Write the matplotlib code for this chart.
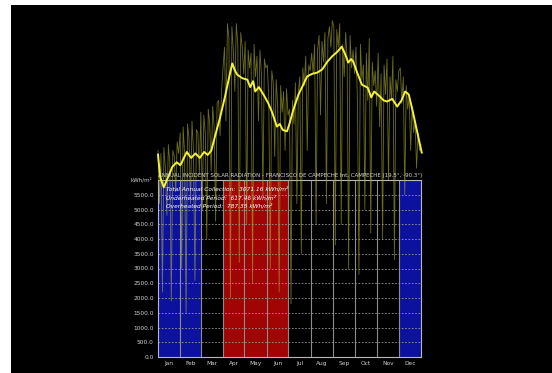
import numpy as np
import matplotlib
matplotlib.use("Agg")
import matplotlib.pyplot as plt
from matplotlib.patches import Rectangle

months = ["Jan", "Feb", "Mar", "Apr", "May", "Jun", "Jul", "Aug", "Sep", "Oct", "Nov", "Dec"]
month_days = [31, 28, 31, 30, 31, 30, 31, 31, 30, 31, 30, 31]
# period of each month: U = underheated (blue), O = overheated (red), N = neutral
month_period = ["U", "U", "N", "O", "O", "O", "N", "N", "N", "N", "N", "U"]
period_colors = {"U": "#0c129e", "O": "#a00404", "N": "#000000"}

# daily incident radiation (Wh/m2), sampled about every 2 days
daily_values = [
    7000, 5200, 6900, 2200, 7100, 6400, 4800, 7200, 6600, 1900, 7000, 6800, 5600, 7300, 6900,
    7600, 3000, 7800, 6900, 1500, 7900, 7400, 5200, 8000, 7000, 2600, 7700, 7600, 6200,
    8300, 5000, 8200, 7600, 4000, 8400, 7900, 6300, 8500, 7800, 4600, 8600, 8700, 7500, 9000,
    9800, 10500, 8000, 11300, 10800, 2000, 11200, 10400, 9000, 11300, 10600, 3200, 11000, 10500, 9600,
    10700, 4500, 10400, 9800, 10300, 2500, 10600, 9500, 10200, 8000, 10400, 9600, 5500, 10100, 9800,
    9900, 8700, 3000, 9700, 9300, 6800, 9400, 8500, 2200, 9200, 8300, 9000, 7000, 9100, 8200,
    8400, 1800, 8700, 7900, 9300, 5200, 9000, 9500, 3500, 9800, 9200, 10200, 7000, 9900, 9700,
    10300, 9600, 10600, 4500, 10400, 10900, 8200, 10700, 10000, 11000, 5200, 10800, 11200, 10500, 11400,
    11200, 3800, 11100, 10500, 11300, 4500, 10600, 9500, 11000, 10100, 3000, 10900, 9800, 10400, 9600,
    10500, 8600, 2800, 10600, 9400, 9900, 5000, 10300, 8700, 10800, 4200, 10000, 9200, 9700, 8500,
    10300, 7800, 9600, 4000, 9900, 8900, 10100, 6000, 9500, 8700, 10200, 3300, 9400, 9000, 9700,
    9800, 8600, 9500, 5500, 9200, 8400, 8800, 7000, 8500, 7600, 8000, 6400, 7600, 7000, 7200,
]

# smoothed (running average) curve: day of year, value
smooth_days = [0, 3, 8, 14, 20, 26, 31, 36, 40, 46, 52, 58, 64, 69, 74, 79, 86, 93, 98, 103,
               107, 110, 117, 124, 128, 132, 135, 140, 148, 153, 158, 165, 169, 173, 179, 183,
               187, 195, 201, 207, 214, 221, 228, 235, 242, 249, 255, 260, 264, 268, 271, 277,
               283, 291, 296, 300, 308, 313, 318, 325, 332, 338, 343, 348, 354, 360, 366]
smooth_values = [6860, 6100, 5750, 6100, 6450, 6600, 6500, 6750, 6950, 6750, 6900, 6750, 6950, 6850,
                 7000, 7470, 8100, 8830, 9400, 9950, 9700, 9570, 9450, 9400, 9150, 9350, 9000,
                 9150, 8830, 8600, 8320, 7810, 7900, 7700, 7650, 7950, 8320, 8900, 9200, 9510,
                 9600, 9640, 9750, 10010, 10200, 10350, 10520, 10250, 9980, 10100, 10010, 9600,
                 9230, 9130, 8800, 9000, 8830, 8700, 8660, 8750, 8490, 8700, 9000, 8900, 8280,
                 7600, 6930]

yticks = [0, 500, 1000, 1500, 2000, 2500, 3000, 3500, 4000, 4500, 5000, 5500]
info_lines = ["Total Annual Collection:  3071.16 kWh/m\u00b2",
              "Underheated Period:  617.46 kWh/m\u00b2",
              "Overheated Period:  787.35 kWh/m\u00b2"]
title = "ANNUAL INCIDENT SOLAR RADIATION - FRANCISCO DE CAMPECHE Int, CAMPECHE (19.5\u00b0, -90.3\u00b0)"

fig = plt.figure(figsize=(5.52, 3.73), dpi=100, facecolor="black")
# white margins on the left and top
fig.patches.append(Rectangle((0, 0), 11 / 552, 1, transform=fig.transFigure,
                             facecolor="white", edgecolor="none", zorder=-10))
fig.patches.append(Rectangle((0, 1 - 5 / 373), 1, 5 / 373, transform=fig.transFigure,
                             facecolor="white", edgecolor="none", zorder=-10))

ax = fig.add_axes([158 / 552, 1 - 357 / 373, 263 / 552, 177 / 373])
ax.set_facecolor("black")
bounds = np.concatenate([[0], np.cumsum(month_days)])
for i, p in enumerate(month_period):
    ax.axvspan(bounds[i], bounds[i + 1], color=period_colors[p], zorder=0, lw=0)
for b in bounds[1:-1]:
    ax.axvline(b, color="#8c8c8c", lw=0.8, zorder=1)
for t in yticks[1:]:
    ax.axhline(t, color="#9a9a9a", lw=0.6, ls=(0, (2, 2)), zorder=1)

ax.set_xlim(0, 365)
ax.set_ylim(0, 6000)
ax.set_yticks(yticks)
ax.set_yticklabels([f"{v:.1f}" for v in yticks])
centers = (bounds[:-1] + bounds[1:]) / 2
ax.set_xticks(centers)
ax.set_xticklabels(months)
ax.tick_params(colors="#cfcfcf", labelsize=4.2, length=0, pad=3)
for s in ax.spines.values():
    s.set_color("#b8b8b8")
    s.set_linewidth(0.8)

xd = np.linspace(0, 365, len(daily_values))
ax.plot(xd, daily_values, color="#a8a830", lw=0.6, alpha=0.65, clip_on=False, zorder=3)
ax.plot(smooth_days, smooth_values, color="#f2f23c", lw=1.4, clip_on=False, zorder=4)

ax.text(-0.02, 1.0, "kWh/m\u00b2", transform=ax.transAxes, ha="right", va="center",
        color="#cfcfcf", fontsize=4.0, zorder=6)
ax.text(0.0, 1.012, title, transform=ax.transAxes, ha="left", va="bottom",
        color="#d6d6d6", fontsize=3.95, zorder=6)
for i, line in enumerate(info_lines):
    ax.text(0.03, 0.965 - i * 0.047, line, transform=ax.transAxes, ha="left", va="top",
            color="white", fontsize=4.2, style="italic", zorder=6)

fig.savefig("out.png", dpi=100, facecolor="black")
